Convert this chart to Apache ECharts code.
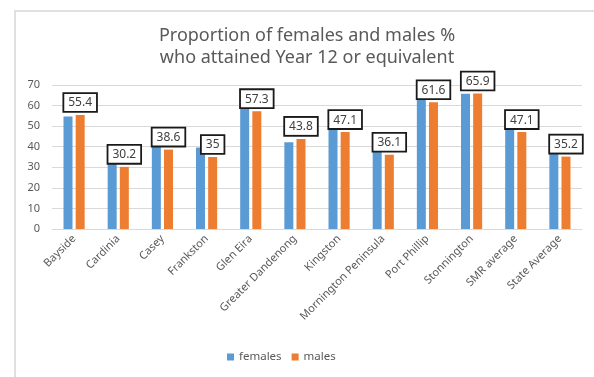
<!DOCTYPE html>
<html>
<head>
<meta charset="utf-8">
<script src="https://cdn.jsdelivr.net/npm/echarts@6/dist/echarts.min.js"></script>
<style>
  html, body { margin: 0; padding: 0; background: #fff; }
  #wrap { position: absolute; left: 0; top: 0; width: 594px; height: 377px; }
  #frame { position: absolute; left: 14px; top: 10px; width: 600px; height: 400px;
           border-top: 2px solid #e0e0e0; border-left: 2px solid #e0e0e0; }
  #chart { position: absolute; left: 0; top: 0; width: 594px; height: 377px; }
</style>
</head>
<body>
<div id="wrap">
  <div id="frame"></div>
  <div id="chart"></div>
</div>
<script>
const categories = ['Bayside', 'Cardinia', 'Casey', 'Frankston', 'Glen Eira', 'Greater Dandenong',
  'Kingston', 'Mornington Peninsula', 'Port Phillip', 'Stonnington', 'SMR average', 'State Average'];
const females = [54.7, 37.7, 42.5, 39.6, 58.7, 42.2, 48.5, 39.6, 63.6, 65.8, 49.0, 39.3];
const males = [55.4, 30.2, 38.6, 35, 57.3, 43.8, 47.1, 36.1, 61.6, 65.9, 47.1, 35.2];
const yTicks = [0, 10, 20, 30, 40, 50, 60, 70];

const chart = echarts.init(document.getElementById('chart'), null, { renderer: 'canvas' });
const font = 'Noto Sans';
chart.setOption({
  backgroundColor: 'transparent',
  animation: false,
  title: {
    text: 'Proportion of females and males %\nwho attained Year 12 or equivalent',
    left: 302, top: 20, textAlign: 'center',
    textStyle: { fontFamily: font, fontSize: 18, fontWeight: 'normal', color: '#595959', lineHeight: 22 }
  },
  legend: {
    bottom: 9, left: 222,
    itemWidth: 7, itemHeight: 7, itemGap: 10,
    icon: 'rect',
    textStyle: { fontFamily: font, fontSize: 11.5, color: '#595959' },
    data: ['females', 'males']
  },
  grid: { left: 52, right: 12, top: 85, bottom: 148, containLabel: false },
  xAxis: {
    type: 'category',
    data: categories,
    axisLine: { lineStyle: { color: '#d9d9d9' } },
    axisTick: { show: false },
    axisLabel: { rotate: 45, interval: 0, fontFamily: font, fontSize: 11, color: '#595959', margin: 8 }
  },
  yAxis: {
    type: 'value',
    min: yTicks[0], max: yTicks[yTicks.length - 1], interval: 10,
    axisLine: { show: false },
    axisTick: { show: false },
    splitLine: { lineStyle: { color: '#d9d9d9' } },
    axisLabel: { fontFamily: font, fontSize: 11, color: '#595959', margin: 12 }
  },
  series: [
    {
      name: 'females', type: 'bar', data: females,
      barWidth: 9, barGap: '35%',
      itemStyle: { color: '#5b9bd5' }
    },
    {
      name: 'males', type: 'bar', data: males,
      barWidth: 9,
      itemStyle: { color: '#ed7d31' },
      label: {
        show: true, position: 'top', distance: 4,
        fontFamily: font, fontSize: 12, color: '#404040',
        backgroundColor: '#fff', borderColor: '#1a1a1a', borderWidth: 1.8,
        padding: [3, 4, 2, 4]
      }
    }
  ]
});
</script>
</body>
</html>
